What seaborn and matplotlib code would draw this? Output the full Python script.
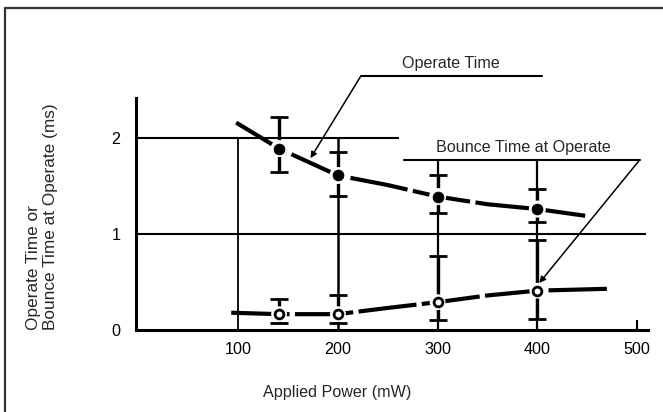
import numpy as np
import pandas as pd
import matplotlib
matplotlib.use("Agg")
import matplotlib.pyplot as plt
from matplotlib.lines import Line2D
import seaborn as sns

# Data
power_pts = [141, 200, 300, 400]
operate_ms = [1.89, 1.61, 1.39, 1.26]
operate_lo = [1.65, 1.40, 1.22, 1.12]
operate_hi = [2.22, 1.85, 1.61, 1.47]

bounce_ms = [0.165, 0.165, 0.29, 0.41]
bounce_lo = [0.07, 0.07, 0.10, 0.11]
bounce_hi = [0.32, 0.36, 0.77, 0.94]

# curve traces
operate_curve_x = [98, 141, 200, 250, 300, 350, 400, 448]
operate_curve_y = [2.16, 1.89, 1.61, 1.51, 1.39, 1.31, 1.26, 1.19]
bounce_curve_x = [93, 141, 200, 250, 300, 350, 400, 473]
bounce_curve_y = [0.18, 0.165, 0.165, 0.23, 0.29, 0.36, 0.41, 0.43]

x_ticks = [100, 200, 300, 400, 500]
y_ticks = [0, 1, 2]

sns.set_theme(style="white")
plt.rcParams['font.family'] = ['Liberation Sans', 'DejaVu Sans']
FS = 11.6

fig = plt.figure(figsize=(6.63, 4.12), dpi=100)
W, H = 663, 412
ax = fig.add_axes([136 / W, (H - 330) / H, (648 - 136) / W, (330 - 98) / H])
ax.set_facecolor("white")
ax.set_xlim(-2.5, 511)
ax.set_ylim(0, 2.417)

# reference grid lines of the original drawing
ax.hlines(2, 0, 261, color="black", lw=1.5)
ax.hlines(1, 0, 509, color="black", lw=1.5)
ax.vlines(100, 0, 2, color="black", lw=1.3)
ax.vlines(200, 0, 2, color="black", lw=1.8)
ax.vlines([300, 400], 0, 1.77, color="black", lw=1.6)
ax.vlines(500, 0, 0.1, color="black", lw=1.5)

# curves
dash = (0, (14, 1.3))
sns.lineplot(x=operate_curve_x, y=operate_curve_y, ax=ax, color="black",
             lw=3, linestyle=dash, sort=True, estimator=None)
sns.lineplot(x=bounce_curve_x, y=bounce_curve_y, ax=ax, color="black",
             lw=3, linestyle=dash, sort=True, estimator=None)

# error bars
op = np.array(operate_ms)
bo = np.array(bounce_ms)
ax.errorbar(power_pts, op, yerr=[op - np.array(operate_lo), np.array(operate_hi) - op],
            fmt="none", ecolor="black", elinewidth=2.4, capsize=6.5, capthick=2, zorder=3)
ax.errorbar(power_pts, bo, yerr=[bo - np.array(bounce_lo), np.array(bounce_hi) - bo],
            fmt="none", ecolor="black", elinewidth=2.4, capsize=6.5, capthick=2, zorder=3)

# markers with white halo (gaps in curves around points)
sns.scatterplot(x=power_pts, y=operate_ms, ax=ax, s=150, color="white",
                edgecolor="none", zorder=4)
sns.scatterplot(x=power_pts, y=operate_ms, ax=ax, s=60, color="black",
                edgecolor="black", zorder=5)
sns.scatterplot(x=power_pts, y=bounce_ms, ax=ax, s=130, color="white",
                edgecolor="none", zorder=4)
sns.scatterplot(x=power_pts, y=bounce_ms, ax=ax, s=40, color="white",
                edgecolor="black", linewidth=2, zorder=5)

# callouts
ax.plot([223, 405], [2.646, 2.646], color="black", lw=1.5, clip_on=False)
ax.annotate("", xy=(172.5, 1.79), xytext=(223, 2.646), annotation_clip=False,
            arrowprops=dict(arrowstyle="-|>", color="black", lw=1.1,
                            shrinkA=0, shrinkB=0, mutation_scale=9))
ax.text(313, 2.78, "Operate Time", ha="center", va="center", fontsize=FS, clip_on=False)

ax.plot([266, 502.5], [1.77, 1.77], color="black", lw=1.5, clip_on=False)
ax.annotate("", xy=(402, 0.49), xytext=(502.5, 1.77), annotation_clip=False,
            arrowprops=dict(arrowstyle="-|>", color="black", lw=1.1,
                            shrinkA=0, shrinkB=0, mutation_scale=9))
ax.text(386, 1.90, "Bounce Time at Operate", ha="center", va="center", fontsize=FS)

# axes styling
for s in ["top", "right"]:
    ax.spines[s].set_visible(False)
for s in ["left", "bottom"]:
    ax.spines[s].set_visible(True)
    ax.spines[s].set_color("black")
    ax.spines[s].set_linewidth(2.2)
ax.set_xticks(x_ticks)
ax.set_xticklabels([str(v) for v in x_ticks])
ax.set_yticks(y_ticks)
ax.set_yticklabels([str(v) for v in y_ticks])
ax.tick_params(axis="x", length=0, pad=8.5, labelsize=FS, colors="black")
ax.tick_params(axis="y", length=0, pad=11, labelsize=FS, colors="black")
ax.grid(False)

fig.text(337 / W, (H - 392) / H, "Applied Power (mW)", ha="center", va="center", fontsize=FS)
fig.text(42 / W, (H - 330) / H, "Operate Time or\nBounce Time at Operate (ms)",
         rotation=90, ha="center", va="bottom", multialignment="left",
         fontsize=12.4, linespacing=1.2)

# page frame (top and left edges only)
fig.add_artist(Line2D([4.5 / W, 4.5 / W], [0, (H - 8) / H], color="#333333", lw=1.6,
                      transform=fig.transFigure))
fig.add_artist(Line2D([4.5 / W, 1], [(H - 8) / H, (H - 8) / H], color="#333333", lw=1.6,
                      transform=fig.transFigure))

fig.savefig("out.png", dpi=100)
